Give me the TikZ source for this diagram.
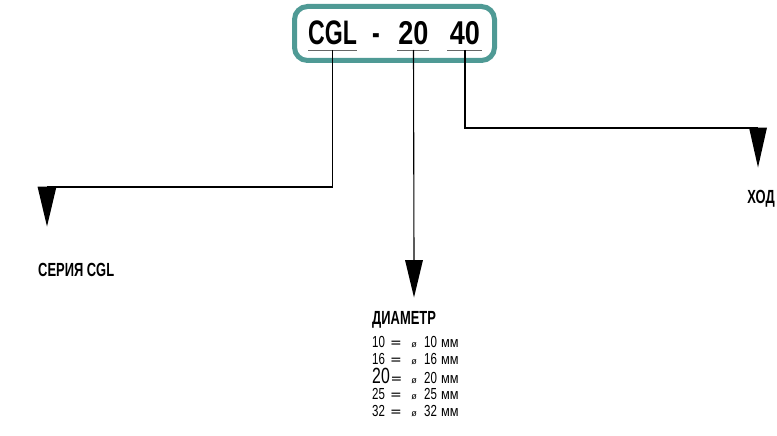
\documentclass[tikz,border=0pt]{standalone}
\usepackage{fontspec}
\setmainfont{Liberation Sans}
\newfontfamily\condA[FakeStretch=0.68]{Liberation Sans}
\newfontfamily\condB[FakeStretch=0.82]{Liberation Sans}
\newfontfamily\condT[FakeStretch=0.72]{Liberation Sans}
\newfontfamily\condM[FakeStretch=0.85]{Liberation Sans}
\newfontfamily\eqfont{DejaVu Sans}
\usetikzlibrary{arrows.meta}
\definecolor{tealbox}{RGB}{79,154,149}
\begin{document}
\begin{tikzpicture}[x=1pt,y=-1pt,
  big/.style={inner sep=0pt, anchor=base, font=\condA\bfseries\fontsize{34}{34}\selectfont},
  bignum/.style={inner sep=0pt, anchor=base, font=\condB\bfseries\fontsize{33}{33}\selectfont},
  lab/.style={inner sep=0pt, font=\condA\bfseries\fontsize{19}{19}\selectfont},
  cell/.style={inner sep=0pt, anchor=base west, font=\condT\fontsize{16}{16}\selectfont},
  eqs/.style={inner sep=0pt, anchor=base, font=\eqfont\fontsize{14}{14}\selectfont},
  dia/.style={inner sep=0pt, anchor=base, font=\fontsize{9}{9}\selectfont},
  unit/.style={inner sep=0pt, anchor=base west, font=\condM\fontsize{15}{15}\selectfont},
  ul/.style={draw=gray!80!black, line width=0.9pt},
  conn/.style={draw=black, line width=1.1pt, line join=miter},
  head/.style={fill=black}]
\useasboundingbox (0,0) rectangle (777,436);
% box
\node[draw=tealbox, line width=5pt, rounded corners=13pt, minimum width=200pt, minimum height=54pt, inner sep=0pt] (box) at (394.5,33.5) {};
% code text
\node[big] (cgl) at (332.5,45) {CGL};
\node[big] (dash) at (376,45) {-};
\node[bignum] (d20) at (413.5,45) {20};
\node[bignum] (d40) at (465,45) {40};
% underlines
\coordinate (u1) at (332.5,50);
\coordinate (u2) at (413.5,50);
\coordinate (u3) at (465,50);
\draw[ul] (308,50) -- (357,50);
\draw[ul] (397,50) -- (429,50);
\draw[ul] (447,50) -- (482,50);
% labels
\node[lab, anchor=base west] (serie) at (38,276) {СЕРИЯ CGL};
\node[lab, anchor=base east] (hod) at (775,203) {ХОД};
\node[lab, anchor=base west] (diam) at (372,324) {ДИАМЕТР};
% connector endpoints and heads
\coordinate (c1) at (47,187);
\coordinate (b2) at (414,260);
\coordinate (c3) at (758,128);
\draw[conn] (u1) -- (u1 |- c1) -- (c1);
\draw[conn] (u2) -- (b2);
\draw[conn] (u3) -- (u3 |- c3) -- (c3);
\fill[head] (37.5,186.5) -- (56.5,186.5) -- (47,226.5) -- cycle;
\fill[head] (405,260) -- (423,260) -- (414,297.5) -- cycle;
\fill[head] (749,127.5) -- (767,127.5) -- (758,167.5) -- cycle;
% table
\foreach \i/\n/\y in {1/10/347,2/16/364,4/25/399,5/32/416}{
  \node[cell] (r\i n) at (372,\y) {\n};
  \node[eqs] (r\i e) at (396,\y) {=};
  \node[dia] (r\i o) at (414,\y) {ø};
  \node[cell] (r\i v) at (424,\y) {\n};
  \node[unit] (r\i m) at (441,\y) {мм};
}
\node[cell, font=\condT\fontsize{22}{22}\selectfont] (r3n) at (372,383.5) {20};
\node[eqs] (r3e) at (396.5,383) {=};
\node[dia] (r3o) at (414,383) {ø};
\node[cell] (r3v) at (424,383) {20};
\node[unit] (r3m) at (441,383) {мм};
\end{tikzpicture}
\end{document}
